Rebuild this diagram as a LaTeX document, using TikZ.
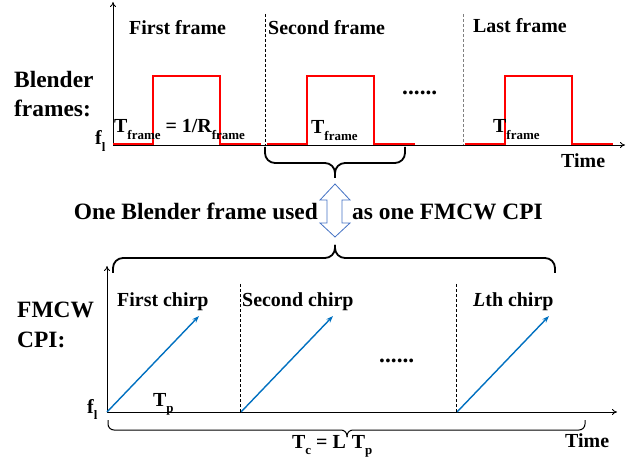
\documentclass[tikz,border=0pt]{standalone}
\usepackage{fontspec}
\setmainfont{Liberation Serif}
\usetikzlibrary{arrows.meta}
\definecolor{chirpblue}{RGB}{0,112,192}
\definecolor{outlineblue}{RGB}{68,114,196}
\newcommand{\lowsub}[1]{\raisebox{-0.35em}{\fontsize{13}{14}\selectfont #1}}

\begin{document}
\begin{tikzpicture}[x=1bp, y=-1bp,
	lbl/.style={inner sep=0pt, anchor=base west, font=\fontsize{20}{24}\selectfont\bfseries},
	biglbl/.style={lbl, font=\fontsize{23.5}{27}\selectfont\bfseries},
	axis/.style={line width=0.8bp, -{To[length=5bp,width=6bp]}},
	sep/.style={line width=0.7bp, dash pattern=on 3bp off 2bp},
	pulse/.style={line width=1.6bp, red},
	chirp/.style={line width=1.4bp, chirpblue, -{Stealth[length=7bp,width=5bp]}},
	bracket/.style={line width=1.8bp, rounded corners=10bp},
	thinbracket/.style={line width=1bp, rounded corners=6bp}]
			%%%%% START %%%%%
			\useasboundingbox (0,0) rectangle (641,464);
			
			%%%%% blender frames
			\coordinate (o1) at (113,145);
			\draw[axis] (o1) -- (113,2);
			\draw[axis] (o1) -- (625,145);
			
			\foreach \s in {113,267,465}
				\draw[pulse] (\s,144) -- ++(40,0) -- ++(0,-68) -- ++(67,0) -- ++(0,68) -- ++(41,0);
			
			\draw[sep] (265,14) -- (265,145);
			\draw[sep, gray] (463,14) -- (463,145);
			
			\node[biglbl] (blender) at (14,88) {Blender};
			\node[biglbl] (frames) at (14,117) {frames:};
			\node[lbl] (fl1) at (95,145) {f\lowsub{l}};
			
			\node[lbl] (first) at (129,35) {First frame};
			\node[lbl] (second) at (268,35) {Second frame};
			\node[lbl] (last) at (473,33) {Last frame};
			
			\node[lbl] (tfirst) at (114,133) {T\lowsub{frame} = 1/R\lowsub{frame}};
			\node[lbl] (tsecond) at (311,134) {T\lowsub{frame}};
			\node[lbl] (tlast) at (493,133) {T\lowsub{frame}};
			\node[biglbl] (dots1) at (402,95) {......};
			\node[lbl] (time1) at (561,168) {Time};
			
			\draw[bracket] (265,147) |- (335,163) -- (335,178);
			\draw[bracket] (405,147) |- (335,163) -- (335,178);
			
			%%%%% middle
			\node[biglbl, anchor=base east] (used) at (318,220) {One Blender frame used};
			\node[biglbl] (asone) at (352,220) {as one FMCW CPI};
			\draw[outlineblue, fill=white, line width=0.8bp] (335,184) -- (350,200) -- (342,200) -- (342,223) -- (350,223) -- (335,237)
				-- (320,223) -- (327,223) -- (327,200) -- (320,200) -- cycle;
			
			\draw[bracket] (113,273) |- (335,258) -- (335,245);
			\draw[bracket] (555,273) |- (335,258) -- (335,245);
			
			%%%%% fmcw cpi
			\coordinate (o2) at (107,412);
			\draw[axis] (o2) -- (107,266);
			\draw[axis] (o2) -- (617,412);
			
			\foreach \s in {107,241,457}
				\draw[chirp] (\s,412) -- ++(92,-96);
			
			\draw[sep] (240,284) -- (240,412);
			\draw[sep] (456,284) -- (456,412);
			
			\node[biglbl] (fmcw) at (17,318) {FMCW};
			\node[biglbl] (cpi) at (17,347) {CPI:};
			\node[lbl] (fl2) at (87,413) {f\lowsub{l}};
			
			\node[lbl] (chirp1) at (117,307) {First chirp};
			\node[lbl] (chirp2) at (242,307) {Second chirp};
			\node[lbl] (chirpL) at (473,307) {\textit{L}th chirp};
			\node[biglbl] (dots2) at (379,362) {......};
			\node[lbl] (tp) at (153,406) {T\lowsub{p}};
			
			\draw[thinbracket] (108,420) |- (347,430) -- (347,437);
			\draw[thinbracket] (585,420) |- (347,430) -- (347,437);
			\node[lbl] (tc) at (292,448) {T\lowsub{c} = L\hspace{6bp}T\lowsub{p}};
			\node[lbl] (time2) at (565,447) {Time};
			
			%%%%% END %%%%%
\end{tikzpicture}
\end{document}
